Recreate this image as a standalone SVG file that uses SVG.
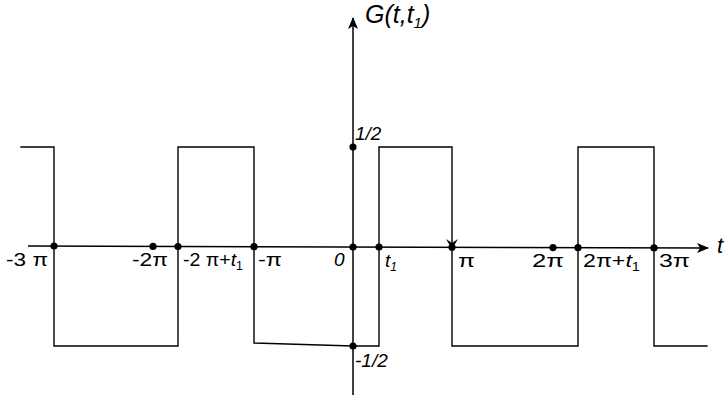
<svg xmlns="http://www.w3.org/2000/svg" width="725" height="401" viewBox="0 0 725 401">
<style>
.ln{fill:none;stroke:#000;stroke-width:1.4;stroke-linecap:square}
.ax{fill:none;stroke:#000;stroke-width:1.5}
.dot{fill:#000}
.lb{font-family:"Liberation Sans",Arial,sans-serif;font-size:19px;fill:#000}
.it{font-style:italic}
.sub{font-size:12px}
</style>
<defs>
<marker id="ah" viewBox="0 0 12 10" refX="11" refY="5" markerWidth="12" markerHeight="10" markerUnits="userSpaceOnUse" orient="auto">
<path d="M0,0 L12,5 L0,10 L3,5 Z" fill="#000"/>
</marker>
</defs>
<g id="connectors">
<line class="ax" x1="28" y1="246" x2="708" y2="248" marker-end="url(#ah)"/>
<line class="ax" x1="353" y1="395" x2="353" y2="18" marker-end="url(#ah)"/>
</g>
<g id="waveform">
<polyline class="ln" points="21,147 54,147 54,346 178,346 178,147 254,147 254,343 353,346 379,346 379,147 452,147 452,346 578,346 578,147 654,147 654,346 707,346"/>
<path d="M446,239 L452,249 L458,239 L452,243 Z" fill="#000"/>
</g>
<g id="points">
<circle class="dot" cx="54" cy="246" r="3.6"/>
<circle class="dot" cx="153" cy="246.4" r="3.6"/>
<circle class="dot" cx="178" cy="246.5" r="3.6"/>
<circle class="dot" cx="254" cy="246.7" r="3.6"/>
<circle class="dot" cx="353" cy="247" r="3.6"/>
<circle class="dot" cx="379" cy="247" r="3.6"/>
<circle class="dot" cx="452" cy="247.3" r="3.6"/>
<circle class="dot" cx="553" cy="247.6" r="3.6"/>
<circle class="dot" cx="578" cy="247.7" r="3.6"/>
<circle class="dot" cx="654" cy="247.9" r="3.6"/>
<circle class="dot" cx="353" cy="147" r="3.6"/>
<circle class="dot" cx="353" cy="346" r="3.6"/>
</g>
<g id="labels">
<text class="lb it" x="365" y="23" style="font-size:25px">G(t,t<tspan style="font-size:15px" dy="5">1</tspan><tspan dy="-5">)</tspan></text>
<text class="lb it" x="717" y="253" style="font-size:22px">t</text>
<text class="lb it" x="355" y="140">1/2</text>
<text class="lb it" x="355" y="367">-1/2</text>
<text class="lb" x="6" y="266" textLength="42" lengthAdjust="spacingAndGlyphs">-3 π</text>
<text class="lb" x="132" y="266" textLength="36" lengthAdjust="spacingAndGlyphs">-2π</text>
<text class="lb" x="183" y="266" textLength="60" lengthAdjust="spacingAndGlyphs">-2 π+<tspan class="it">t</tspan><tspan class="sub" dy="4">1</tspan></text>
<text class="lb" x="258" y="266" textLength="24" lengthAdjust="spacingAndGlyphs">-π</text>
<text class="lb it" x="334" y="266">0</text>
<text class="lb it" x="385" y="267">t<tspan class="sub" dy="4">1</tspan></text>
<text class="lb" x="458" y="267" textLength="17" lengthAdjust="spacingAndGlyphs">π</text>
<text class="lb" x="532" y="267" textLength="32" lengthAdjust="spacingAndGlyphs">2π</text>
<text class="lb" x="583" y="267" textLength="57" lengthAdjust="spacingAndGlyphs">2π+<tspan class="it">t</tspan><tspan class="sub" dy="4">1</tspan></text>
<text class="lb" x="659" y="267" textLength="31" lengthAdjust="spacingAndGlyphs">3π</text>
</g>
</svg>
